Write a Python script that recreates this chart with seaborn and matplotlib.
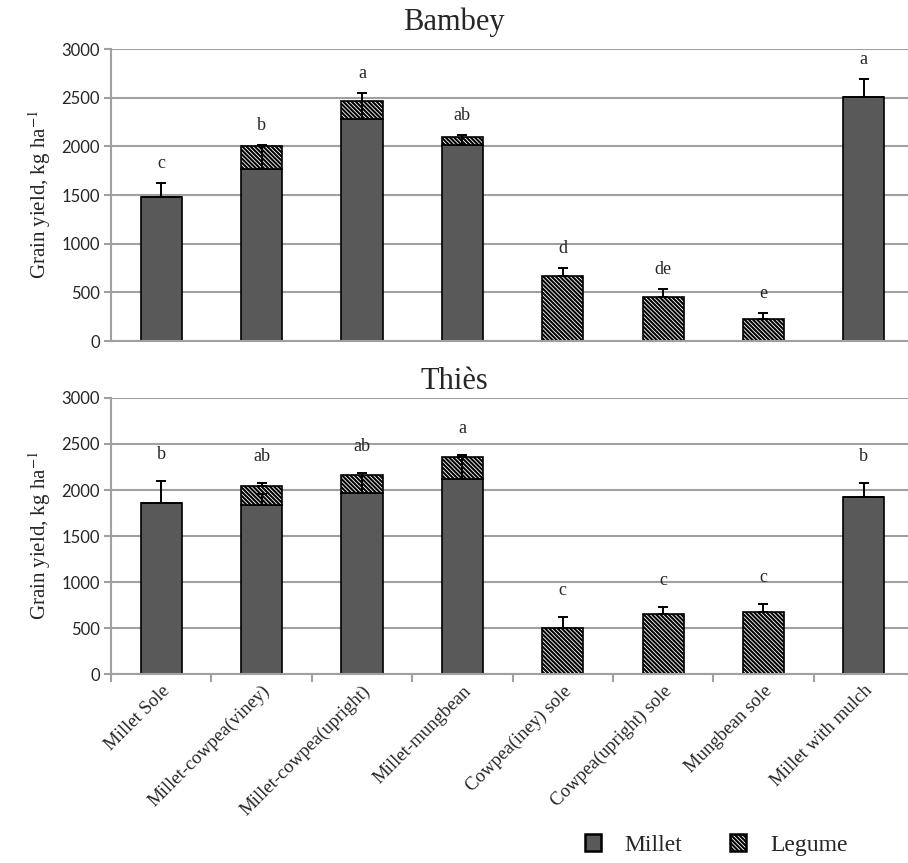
import numpy as np
import pandas as pd
import seaborn as sns
import matplotlib.pyplot as plt
from matplotlib.patches import Patch

categories = ["Millet Sole", "Millet-cowpea(viney)", "Millet-cowpea(upright)",
              "Millet-mungbean", "Cowpea(iney) sole", "Cowpea(upright) sole",
              "Mungbean sole", "Millet with mulch"]

# Bambey
bambey_millet = [1475, 1767, 2280, 2014, 0, 0, 0, 2507]
bambey_legume = [0, 236, 186, 82, 668, 452, 226, 0]
bambey_millet_err = [145, 245, 268, 103, 0, 0, 0, 185]
bambey_legume_err = [0, 0, 0, 0, 82, 82, 62, 0]
bambey_letters = ["c", "b", "a", "ab", "d", "de", "e", "a"]

# Thiès
thies_millet = [1862, 1840, 1967, 2116, 0, 0, 0, 1924]
thies_legume = [0, 204, 197, 248, 502, 655, 673, 0]
thies_millet_err = [240, 113, 215, 266, 0, 0, 0, 149]
thies_legume_err = [0, 29, 0, 18, 113, 69, 91, 0]
thies_letters = ["b", "ab", "ab", "a", "c", "c", "c", "b"]

sns.set_style("white")
plt.rcParams["hatch.linewidth"] = 1.5
plt.rcParams["mathtext.fontset"] = "stix"

SERIF = "Liberation Serif"
MILLET_COLOR = "#595959"
GRID = "#a0a0a0"
HATCH = "\\" * 8


def draw_panel(ax, millet, legume, millet_err, legume_err, letters, letter_offset, xticks):
    df = pd.DataFrame({"cat": categories, "millet": millet, "legume": legume})
    sns.barplot(data=df, x="cat", y="millet", order=categories, color=MILLET_COLOR,
                saturation=1, width=0.41, edgecolor="black", linewidth=1.2, ax=ax, zorder=2)
    sns.barplot(data=df, x="cat", y="legume", order=categories, color="white",
                saturation=1, width=0.41, edgecolor="black", linewidth=1.2,
                hatch=HATCH, bottom=df["millet"], ax=ax, zorder=2)

    x = np.arange(len(categories))
    m = np.array(millet, float)
    l = np.array(legume, float)
    me = np.array(millet_err, float)
    le = np.array(legume_err, float)
    total = m + l

    sel = me > 0
    ax.errorbar(x[sel], m[sel], yerr=[np.zeros(sel.sum()), me[sel]], fmt="none",
                ecolor="black", elinewidth=1.4, capsize=3.6, capthick=1.4, zorder=4)
    sel = le > 0
    ax.errorbar(x[sel], total[sel], yerr=[np.zeros(sel.sum()), le[sel]], fmt="none",
                ecolor="black", elinewidth=1.4, capsize=3.6, capthick=1.4, zorder=4)

    top = np.maximum(m + me, total + le)
    for xi, yi, lab in zip(x, top, letters):
        ax.annotate(lab, (xi, yi), xytext=(0, letter_offset), textcoords="offset points",
                    ha="center", va="bottom", fontsize=13, family=SERIF)

    ax.set_ylim(0, 3000)
    ax.set_yticks(range(0, 3001, 500))
    ax.set_xlim(-0.5, 7.44)
    ax.set_axisbelow(True)
    ax.yaxis.grid(True, color=GRID, linewidth=1.5)
    for s in ["top", "right"]:
        ax.spines[s].set_visible(False)
    for s in ["left", "bottom"]:
        ax.spines[s].set_color(GRID)
        ax.spines[s].set_linewidth(1.5)
    ax.tick_params(axis="y", left=True, length=5, color=GRID, width=1.5,
                   labelsize=12, labelfontfamily="Lato", pad=3)
    ax.set_xlabel("")
    ax.set_ylabel("Grain yield, kg ha$^{-1}$", family=SERIF, fontsize=15, labelpad=6)
    if xticks:
        ax.set_xticks(np.arange(len(categories)) - 0.5, minor=False)
        ax.set_xticklabels([])
        ax.set_xticks(np.arange(len(categories)), minor=True)
        ax.set_xticklabels(categories, minor=True, rotation=45, ha="right",
                           rotation_mode="anchor", family=SERIF, fontsize=13.5)
        ax.tick_params(axis="x", which="major", bottom=True, length=6, color=GRID, width=1.5)
        ax.tick_params(axis="x", which="minor", bottom=False, pad=4)
    else:
        ax.set_xticks([])


fig = plt.figure(figsize=(9.08, 8.63), dpi=100)
ax1 = fig.add_axes([111 / 908, 1 - 341 / 863, 797 / 908, 292 / 863])
ax2 = fig.add_axes([111 / 908, 1 - 674 / 863, 797 / 908, 276 / 863])

draw_panel(ax1, bambey_millet, bambey_legume, bambey_millet_err, bambey_legume_err,
           bambey_letters, 8, False)
draw_panel(ax2, thies_millet, thies_legume, thies_millet_err, thies_legume_err,
           thies_letters, 13, True)

fig.text(0.5, 1 - 22 / 863, "Bambey", ha="center", va="center", family=SERIF, fontsize=22)
fig.text(0.5, 1 - 381 / 863, "Thiès", ha="center", va="center", family=SERIF, fontsize=22)

handles = [Patch(facecolor=MILLET_COLOR, edgecolor="black", linewidth=1.8, label="Millet"),
           Patch(facecolor="white", edgecolor="black", linewidth=1.8, hatch=HATCH, label="Legume")]
fig.legend(handles=handles, loc="center", bbox_to_anchor=(716 / 908, 1 - 845 / 863), ncol=2,
           frameon=False, handlelength=0.7, handleheight=0.7, handletextpad=1.0,
           columnspacing=2.0, prop={"family": SERIF, "size": 17})

fig.savefig("out.png", dpi=100)
